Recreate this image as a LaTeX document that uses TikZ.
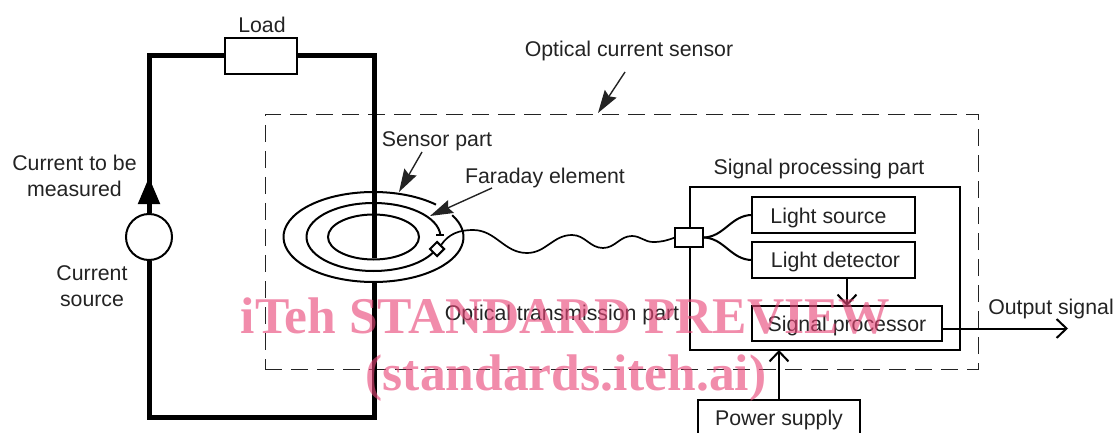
\documentclass[tikz,border=0pt]{standalone}
\usepackage{fontspec}
\setmainfont{Liberation Sans}
\newfontfamily\markfont{Liberation Serif}
\usetikzlibrary{positioning,shapes.geometric,arrows.meta}
\definecolor{inkgray}{RGB}{35,35,35}
\definecolor{markpink}{RGB}{232,70,120}

\tikzset{
  every node/.style={font=\fontsize{21.3}{26}\selectfont,text=inkgray},
  wire/.style={line width=5pt,black},
  lead/.style={line width=2pt,black},
  box/.style={draw=black,line width=2pt,rectangle,inner sep=0pt,outer sep=0pt,fill=white,text depth=0pt},
  pointer/.style={line width=1.4pt,inkgray,-{Stealth[length=23pt,width=14pt,inset=3pt]}},
  feed/.style={lead,-{Straight Barb[length=10pt,width=19pt,line width=2pt]}},
  watermark/.style={font=\markfont\bfseries\fontsize{51.5}{56}\selectfont,text=markpink,text opacity=.62}
}

\begin{document}
\begin{tikzpicture}[x=1pt,y=-1pt]
\useasboundingbox (0,0) rectangle (1117,433);
\clip (0,0) rectangle (1117,433);

% outer frame of the sensor
\node[draw=inkgray,line width=1pt,dash pattern=on 17pt off 9pt,minimum width=713pt,minimum height=254pt,inner sep=0pt] (sensorframe) at (621.5,242) {};

% current loop
\coordinate (ringc) at (373.5,237);
\node[box,minimum width=72pt,minimum height=36pt] (load) at (261,56) {};
\node[draw=black,line width=2pt,circle,minimum size=46pt,inner sep=0pt] (source) at (149,237) {};
\coordinate (wireend) at (374,258);
\coordinate (wirestart) at (374,283);
\draw[wire] (load.west) -| (source.north);
\draw[wire] (load.east) -| (wireend);
\draw[wire] (source.south) |- (wirestart |- 0,417) -- (wirestart);
\draw[wire,-{Triangle[length=27pt,width=21pt]}] (source.north) -- ++(0,-36);

% rings of the sensor part
\node[draw=black,line width=2pt,ellipse,minimum width=91pt,minimum height=45pt,inner sep=0pt] (innerring) at (ringc) {};
\draw[lead] ([shift={(46:90pt and 45pt)}]ringc) arc[start angle=46,end angle=389,x radius=90pt,y radius=45pt];
\draw[lead] ([shift={(3:67pt and 34pt)}]ringc) coordinate (ringend) arc[start angle=3,end angle=340,x radius=67pt,y radius=34pt];
\draw[lead] ([xshift=-4pt]ringend) -- ([xshift=4pt]ringend);
\node[draw=black,line width=2pt,diamond,fill=white,minimum size=15pt,inner sep=0pt] (faraday) at (437,249) {};

% signal processing part
\node[box,fill=none,minimum width=270pt,minimum height=163pt] (procpart) at (824.5,268.5) {};
\node[box,minimum width=163pt,minimum height=36pt] (lsource) at (833.5,215) {\raisebox{-1.5pt}{Light source}\hspace*{10pt}};
\node[box,minimum width=163pt,minimum height=36pt,below=9pt of lsource] (ldetector) {\hspace*{4pt}Light detector};
\node[box,minimum width=190pt,minimum height=35pt,below=28pt of ldetector.south west,anchor=north west] (sproc) {Signal processor};
\node[box,minimum width=28pt,minimum height=19pt] (coupler) at (689,237.5) {};
\node[box,minimum width=162pt,minimum height=36pt] (power) at (779,418) {Power supply};
\coordinate (outend) at (1068,328.5);

% optical fibre
\draw[lead,line width=1.7pt] (faraday.north east) to[out=55,in=180] (473,230) to[out=0,in=180] (527,253)
  to[out=0,in=180] (572,235) to[out=0,in=180] (603,248) to[out=0,in=180] (632,236)
  to[out=0,in=180] (653,242) to[out=0,in=200] (coupler.west);
\draw[lead] (coupler.east) to[out=0,in=180] (lsource.west);
\draw[lead] (coupler.east) to[out=0,in=180] (ldetector.west);

% signals
\draw[feed] (ldetector.south -| 847,0) -- (sproc.north -| 847,0);
\draw[feed] (sproc.east |- outend) -- (outend);
\draw[feed] (power.north) -- (procpart.south -| power.north);

% labels
\node (loadlabel) at (262,25) {Load};
\node (sensorlabel) at (629,51) {Optical current sensor};
\node (partlabel) at (437,141) {Sensor part};
\node (elementlabel) at (545,178) {Faraday element};
\node (proclabel) at (819,169) {Signal processing part};
\node (fibrelabel) at (562,315) {Optical transmission part};
\node (outlabel) at (1051,309) {Output signal};
\node[align=center] (currentlabel) at (74.5,176) {Current to be\\measured};
\node[align=center] (sourcelabel) at (92,286) {Current\\source};

% pointers
\coordinate (sensortail) at (625,72);
\coordinate (parttail) at (422,152);
\coordinate (elementtail) at (492,188);
\draw[pointer] (sensortail) -- (598,113);
\draw[pointer] (parttail) -- (399,192);
\draw[pointer] (elementtail) -- (430,216);

% preview mark
\node[watermark] (markone) at (565.5,316) {iTeh STANDARD PREVIEW};
\node[watermark] (marktwo) at (566,378) {(standards.iteh.ai)};
\end{tikzpicture}
\end{document}
